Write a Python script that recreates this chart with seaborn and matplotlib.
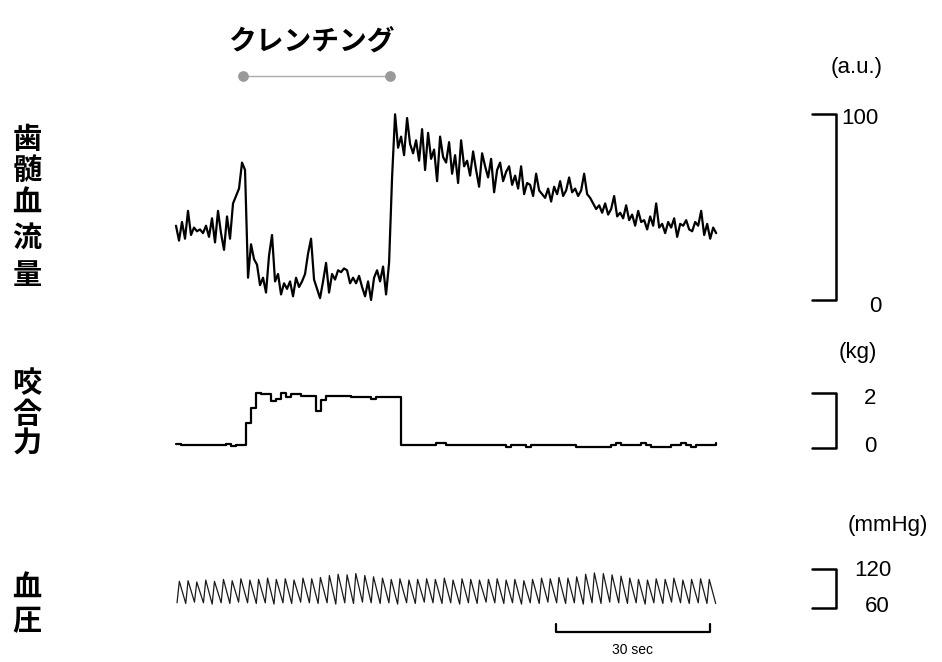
import numpy as np
import pandas as pd
import seaborn as sns
import matplotlib.pyplot as plt

# pulpal blood flow (a.u.), one sample every 0.585 s
flow_dt = 0.585
flow = [40, 32, 42, 33, 48, 35, 39, 37, 38, 36,
        40, 34, 44, 31, 48, 36, 27, 45, 33, 52,
        56, 60, 74, 70, 12, 30, 22, 19, 8, 12,
        4, 24, 35, 10, 14, 3, 9, 6, 10, 2,
        12, 7, 10, 14, 25, 33, 11, 6, 1, 10,
        20, 4, 14, 11, 16, 15, 17, 16, 9, 12,
        9, 13, 7, 2, 10, 0, 12, 16, 10, 18,
        3, 20, 66,
        100, 82, 88, 78, 98, 84, 79, 86, 75, 92,
        70, 90, 76, 81, 64, 88, 77, 74, 85, 68,
        78, 63, 86, 72, 75, 67, 80, 70, 61, 79,
        72, 66, 76, 58, 70, 74, 64, 69, 72, 62,
        67, 60, 72, 57, 63, 62, 56, 68, 59, 57,
        55, 60, 53, 61, 57, 64, 56, 59, 66, 58,
        60, 56, 59, 68, 57, 55, 52, 49, 51, 47,
        52, 46, 49, 56, 45, 47, 44, 51, 43, 46,
        40, 48, 42, 43, 38, 45, 40, 52, 39, 41,
        36, 42, 39, 44, 34, 41, 40, 43, 38, 37,
        42, 40, 48, 35, 41, 33, 39, 36]

# bite force (kg), one sample every 0.975 s
force_dt = 0.975
force = [0.15, 0.1, 0.1, 0.1, 0.1, 0.1, 0.1, 0.1, 0.1, 0.1,
         0.15, 0.08, 0.1, 0.1, 0.9, 1.45, 2.0, 1.95, 1.95, 1.7,
         1.8, 2.0, 1.85, 1.95, 1.95, 1.9, 1.9, 1.9, 1.35, 1.75,
         1.9, 1.9, 1.9, 1.88, 1.88, 1.85, 1.85, 1.85, 1.85, 1.8,
         1.85, 1.85, 1.85, 1.85, 1.85, 0.1, 0.1, 0.1, 0.1, 0.1,
         0.1, 0.1, 0.2, 0.2, 0.1, 0.1, 0.1, 0.1, 0.1, 0.1,
         0.1, 0.1, 0.1, 0.1, 0.1, 0.1, 0.02, 0.1, 0.1, 0.1,
         0.02, 0.1, 0.1, 0.1, 0.1, 0.1, 0.1, 0.1, 0.1, 0.1,
         0.03, 0.03, 0.03, 0.03, 0.03, 0.03, 0.03, 0.1, 0.2, 0.1,
         0.1, 0.1, 0.1, 0.2, 0.1, 0.05, 0.03, 0.03, 0.03, 0.1,
         0.1, 0.2, 0.1, 0.03, 0.1, 0.1, 0.1, 0.1, 0.2]

# blood pressure beats: onset time (s), systolic and diastolic (mmHg)
bp_onset = [0.2, 1.9, 3.6, 5.35, 7.05, 8.8, 10.5, 12.2, 13.95, 15.65,
            17.4, 19.1, 20.85, 22.55, 24.3, 26.0, 27.7, 29.45, 31.15, 32.9,
            34.6, 36.35, 38.05, 39.8, 41.5, 43.2, 44.95, 46.65, 48.4, 50.1,
            51.85, 53.55, 55.3, 57.0, 58.7, 60.45, 62.15, 63.9, 65.6, 67.35,
            69.05, 70.8, 72.5, 74.2, 75.95, 77.65, 79.4, 81.1, 82.85, 84.55,
            86.3, 88.0, 89.7, 91.45, 93.15, 94.9, 96.6, 98.35, 100.05, 101.8,
            103.5]
bp_sys = [101, 102, 100, 103, 101, 104, 102, 105, 103, 104,
          106, 104, 105, 103, 106, 105, 107, 110, 112, 111,
          113, 110, 108, 106, 104, 105, 103, 104, 105, 104,
          106, 103, 105, 104, 103, 104, 105, 103, 104, 102,
          104, 106, 105, 107, 106, 108, 112, 114, 113, 111,
          109, 106, 104, 103, 105, 104, 106, 103, 104, 105,
          104]
bp_dia = [68, 67, 69, 68, 66, 68, 67, 69, 68, 67,
          68, 66, 68, 67, 69, 68, 67, 68, 66, 68,
          67, 69, 68, 67, 68, 66, 68, 67, 69, 68,
          67, 68, 66, 68, 67, 69, 68, 67, 68, 66,
          68, 67, 69, 68, 67, 68, 66, 68, 67, 69,
          68, 67, 68, 66, 68, 67, 69, 68, 67, 68,
          67]
bp_end = 105.2

clench = [13.1, 41.7]   # clenching period (s)
time_bar = 30           # time scale bar (s)

# build traces
flow_df = pd.DataFrame({'t': np.arange(len(flow)) * flow_dt, 'v': flow})
force_df = pd.DataFrame({'t': np.arange(len(force)) * force_dt, 'v': force})
bp_t, bp_v = [], []
for t0, s, d in zip(bp_onset, bp_sys, bp_dia):
    bp_t += [t0, t0 + 0.45]
    bp_v += [d, s]
bp_t.append(bp_end)
bp_v.append(bp_dia[-1])
bp_df = pd.DataFrame({'t': bp_t, 'v': bp_v})

sns.set_theme(style='white')
plt.rcParams['font.family'] = ['Noto Sans CJK JP', 'DejaVu Sans']
plt.rcParams['text.color'] = 'black'

W, H = 942, 662
fig = plt.figure(figsize=(W / 100, H / 100), dpi=100)

def band(top, bottom):
    ax = fig.add_axes([0, 1 - bottom / H, 1, (bottom - top) / H])
    return ax

ax_flow = band(0, 320)
ax_force = band(320, 480)
ax_bp = band(480, 662)

sns.lineplot(data=flow_df, x='t', y='v', ax=ax_flow, color='black', lw=1.6,
             estimator=None)
sns.lineplot(data=force_df, x='t', y='v', ax=ax_force, color='black', lw=1.6,
             drawstyle='steps-post', estimator=None)
sns.lineplot(data=bp_df, x='t', y='v', ax=ax_bp, color='#1a1a1a', lw=0.9,
             estimator=None)

ax_flow.set_ylim(-20 / 1.857, 300 / 1.857)
ax_force.set_ylim(-32 / 27.5, 128 / 27.5)
ax_bp.set_ylim(60 - 54 / 0.65, 60 + 128 / 0.65)
for ax in (ax_flow, ax_force, ax_bp):
    ax.set_xlim(-176 / 5.13, (W - 176) / 5.13)
    ax.axis('off')

# clenching marker
ax_flow.plot(clench, [120.6, 120.6], color='#aaaaaa', lw=1)
ax_flow.scatter(clench, [120.6, 120.6], s=45, color='#999999', zorder=3)
fig.text(311 / W, 1 - 42 / H, 'クレンチング', fontsize=20, fontweight='bold',
         ha='center', va='center')

# vertical scale brackets
xb0, xb1 = (812 - 176) / 5.13, (836 - 176) / 5.13
for ax, lo, hi in ((ax_flow, 0, 100), (ax_force, 0, 2), (ax_bp, 60, 120)):
    ax.plot([xb0, xb1, xb1, xb0], [hi, hi, lo, lo], color='black', lw=1.8)

# time scale bar
tb0 = (556 - 176) / 5.13
ax_bp.plot([tb0, tb0, tb0 + time_bar, tb0 + time_bar], [35.4, 23.1, 23.1, 35.4],
           color='black', lw=1.6)

num = dict(family='Liberation Sans', fontsize=16, ha='center', va='center')
fig.text(857 / W, 1 - 68 / H, '(a.u.)', **num)
fig.text(860 / W, 1 - 118 / H, '100', **num)
fig.text(875 / W, 1 - 306 / H, '0', **num)
fig.text(858 / W, 1 - 353 / H, '(kg)', **num)
fig.text(870 / W, 1 - 398 / H, '2', **num)
fig.text(870 / W, 1 - 446 / H, '0', **num)
fig.text(888 / W, 1 - 525 / H, '(mmHg)', **num)
fig.text(873 / W, 1 - 571 / H, '120', **num)
fig.text(877 / W, 1 - 606 / H, '60', **num)
fig.text(633 / W, 1 - 650 / H, '30 sec', family='Liberation Sans', fontsize=10,
         ha='center', va='center')

# vertical Japanese labels
for chars, ys in (('歯髄血流量', [139, 170, 203, 238, 275]),
                  ('咬合力', [383, 414, 444]),
                  ('血圧', [588, 621])):
    for ch, y in zip(chars, ys):
        fig.text(27 / W, 1 - y / H, ch, fontsize=21, fontweight='bold',
                 ha='center', va='center')

fig.savefig('out.png', dpi=100)
